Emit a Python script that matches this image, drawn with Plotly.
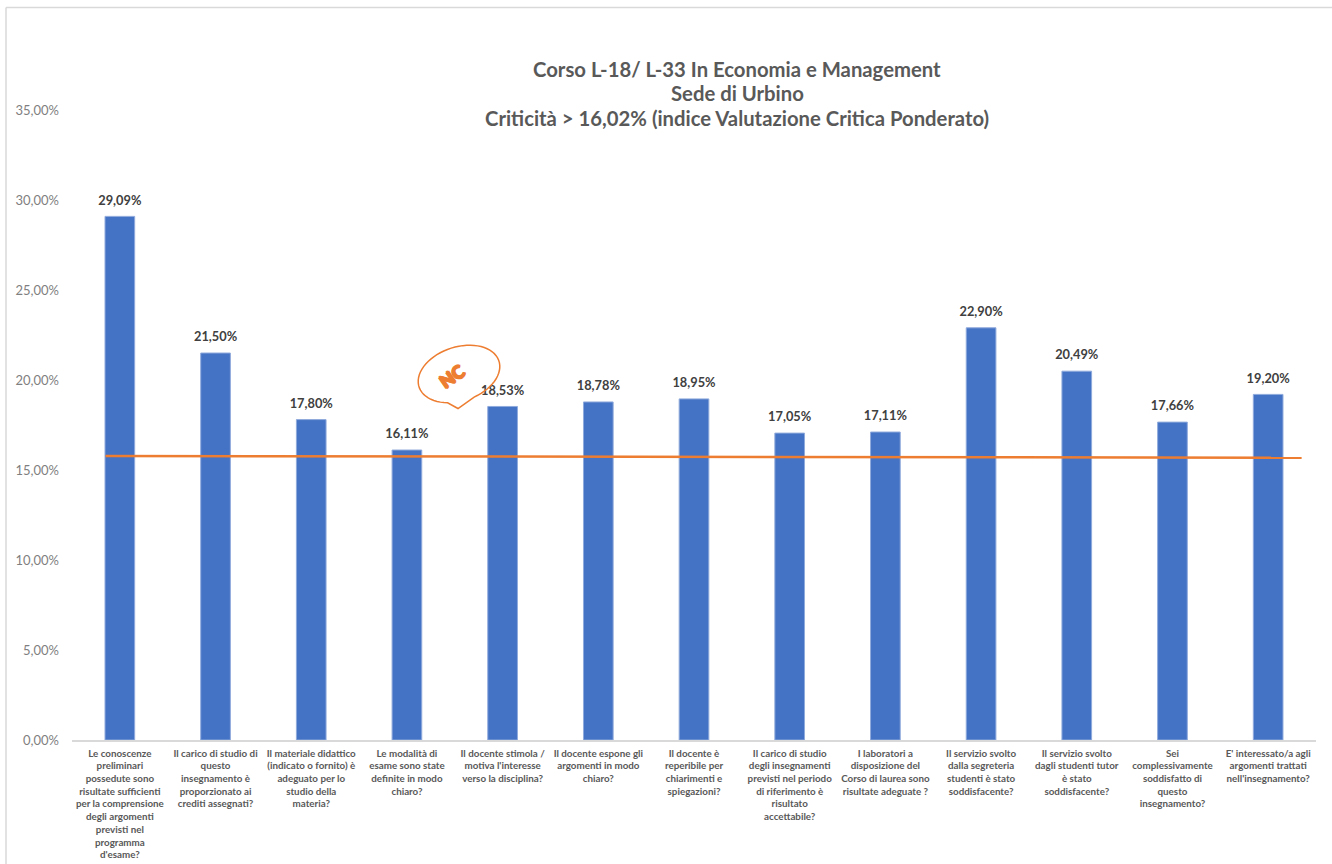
import numpy as np
import plotly.graph_objects as go

categories = [
    "Le conoscenze<br>preliminari<br>possedute sono<br>risultate sufficienti<br>per la comprensione<br>degli argomenti<br>previsti nel<br>programma<br>d'esame?",
    "Il carico di studio di<br>questo<br>insegnamento è<br>proporzionato ai<br>crediti assegnati?",
    "Il materiale didattico<br>(indicato o fornito) è<br>adeguato per lo<br>studio della<br>materia?",
    "Le modalità di<br>esame sono state<br>definite in modo<br>chiaro?",
    "Il docente stimola /<br>motiva l'interesse<br>verso la disciplina?",
    "Il docente espone gli<br>argomenti in modo<br>chiaro?",
    "Il docente è<br>reperibile per<br>chiarimenti e<br>spiegazioni?",
    "Il carico di studio<br>degli insegnamenti<br>previsti nel periodo<br>di riferimento è<br>risultato<br>accettabile?",
    "I laboratori a<br>disposizione del<br>Corso di laurea sono<br>risultate adeguate ?",
    "Il servizio svolto<br>dalla segreteria<br>studenti è stato<br>soddisfacente?",
    "Il servizio svolto<br>dagli studenti tutor<br>è stato<br>soddisfacente?",
    "Sei<br>complessivamente<br>soddisfatto di<br>questo<br>insegnamento?",
    "E' interessato/a agli<br>argomenti trattati<br>nell'insegnamento?",
]
values = [0.2909, 0.2150, 0.1780, 0.1611, 0.1853, 0.1878, 0.1895, 0.1705, 0.1711, 0.2290, 0.2049, 0.1766, 0.1920]
trend_x = [-0.15, 12.35]
trend_y = [0.1578, 0.1568]
title_lines = ["Corso L-18/ L-33 In Economia e Management", "Sede di Urbino",
               "Criticità > 16,02% (indice Valutazione Critica Ponderato)"]
title_pixel_y = [69, 93, 118]

W, H = 1332, 864
ML, MR, MT, MB = 72, 16, 110, 124
PW, PH = W - ML - MR, H - MT - MB
px = lambda x: (x - ML) / PW
py = lambda y: (H - MB - y) / PH
FONT = "Lato, 'Open Sans', sans-serif"

positions = list(range(len(categories)))

fig = go.Figure()
fig.add_bar(x=positions, y=values, width=0.31,
            marker=dict(color="#4472c4", line=dict(color="#8faadc", width=1)))
fig.add_scatter(x=trend_x, y=trend_y, mode="lines", line=dict(color="#ed7d31", width=2.5))
fig.add_scatter(x=positions, y=values, mode="markers+text", texttemplate="<b>%{y:.2%}</b>",
                textposition="top center", cliponaxis=False,
                marker=dict(size=12, opacity=0),
                textfont=dict(family=FONT, size=12.8, color="#404040"))

# Speech-bubble callout outline, drawn in paper coordinates
t = np.radians(np.linspace(118, 118 + 322, 60))
rot = np.radians(-18)
cx, cy, a, b = 459, 374, 42, 27
ex = cx + a * np.cos(t) * np.cos(rot) - b * np.sin(t) * np.sin(rot)
ey = cy + a * np.cos(t) * np.sin(rot) + b * np.sin(t) * np.cos(rot)
pts = [(x, y) for x, y in zip(ex, ey)]
path = "M " + " L ".join(f"{px(x):.5f},{py(y):.5f}" for x, y in pts)
path += f" L {px(458):.5f},{py(408.5):.5f} Z"

shapes = [
    dict(type="path", xref="paper", yref="paper", path=path,
         line=dict(color="#ed7d31", width=1.5), fillcolor="rgba(0,0,0,0)"),
    dict(type="line", xref="paper", yref="paper", x0=px(6), x1=px(6), y0=py(7.5), y1=py(864),
         line=dict(color="#d9d9d9", width=1.5)),
    dict(type="line", xref="paper", yref="paper", x0=px(6), x1=px(1332), y0=py(7.5), y1=py(7.5),
         line=dict(color="#d9d9d9", width=1.5)),
]

annotations = [dict(text=f"<b>{s}</b>", xref="paper", yref="paper", x=px(737), y=py(yy),
                    xanchor="center", yanchor="middle", showarrow=False,
                    font=dict(family=FONT, size=20.3, color="#595959"))
               for s, yy in zip(title_lines, title_pixel_y)]
annotations.append(dict(text="NC", xref="paper", yref="paper", x=px(452), y=py(376),
                        xanchor="center", yanchor="middle", showarrow=False, textangle=-35,
                        font=dict(family=FONT, size=18, color="#ed7d31", weight=900,
                                  shadow="1px 0 0 #ed7d31, -1px 0 0 #ed7d31, 0 1px 0 #ed7d31, 0 -1px 0 #ed7d31")))

fig.update_layout(
    width=W, height=H, autosize=False, showlegend=False,
    margin=dict(l=ML, r=MR, t=MT, b=MB, pad=0),
    paper_bgcolor="white", plot_bgcolor="white",
    separators=", ",
    xaxis=dict(range=[-0.5, 12.5], tickmode="array", tickvals=positions, ticktext=categories,
               tickangle=0, showgrid=False, zeroline=False, showline=True, linecolor="#d9d9d9",
               linewidth=1.5, ticks="", ticklabelstandoff=3, automargin=False,
               tickfont=dict(family=FONT, size=9.8, color="#595959", weight=700)),
    yaxis=dict(range=[0, 0.35], tickmode="array", tickvals=[i * 0.05 for i in range(8)],
               tickformat=".2%", showgrid=False, zeroline=False, showline=False, ticks="",
               ticklabelstandoff=12, automargin=False,
               tickfont=dict(family=FONT, size=13, color="#7f7f7f")),
    shapes=shapes,
    annotations=annotations,
)

fig.write_html("out.html", config={"displayModeBar": False},
               post_script="document.body.style.margin='0';")
